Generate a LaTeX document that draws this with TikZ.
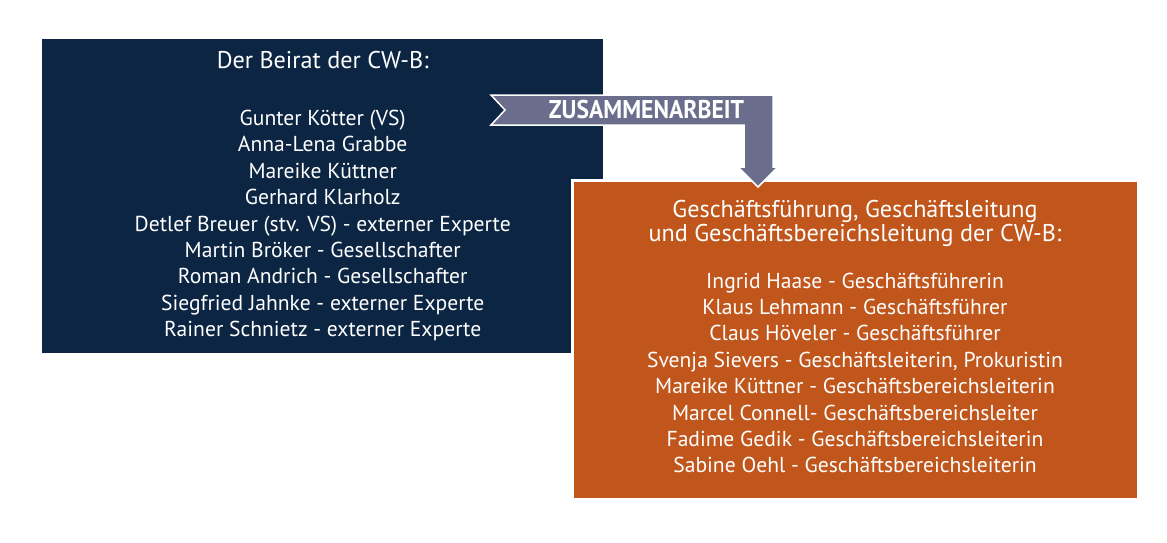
\documentclass[tikz,border=0pt]{standalone}
\usepackage{fontspec}
\setmainfont{PT Sans}
\newfontfamily\bandfont[FakeStretch=0.92]{PT Sans}
\definecolor{beiratblue}{RGB}{12, 37, 66}
\definecolor{gforange}{RGB}{192, 86, 28}
\definecolor{bandgray}{RGB}{106, 110, 140}
\usetikzlibrary{positioning, calc}

\newcommand{\headfont}{\fontsize{24.2}{26.4}\selectfont}
\newcommand{\namefont}{\fontsize{21.6}{26.4}\selectfont}

\begin{document}
\begin{tikzpicture}[x=1pt, y=-1pt,
  board/.style={rectangle, inner sep=0pt, align=center, text=white, font=\namefont},
  band/.style={fill=bandgray, draw=white, line width=1.5pt, line join=miter}]
  \useasboundingbox (0,0) rectangle (1167,543);

  % Beirat
  \node[board, fill=beiratblue, minimum width=561pt, minimum height=314pt, anchor=north west] (beirat) at (42,39) {
    \headfont Der Beirat der CW-B:\\[30.6pt]
    Gunter Kötter (VS)\\
    Anna-Lena Grabbe\\
    Mareike Küttner\\
    Gerhard Klarholz\\
    Detlef Breuer (stv. VS) - externer Experte\\
    Martin Bröker - Gesellschafter\\
    Roman Andrich - Gesellschafter\\
    Siegfried Jahnke - externer Experte\\
    Rainer Schnietz - externer Experte
  };

  % Geschaeftsfuehrung
  \node[board, fill=gforange, draw=white, line width=3pt, minimum width=566pt, minimum height=319pt, anchor=north west] (gf) at (570.5,178.5) {
    \headfont Geschäftsführung, Geschäftsleitung\\[-2.4pt]
    \headfont und Geschäftsbereichsleitung der CW-B:\\[20.6pt]
    Ingrid Haase - Geschäftsführerin\\
    Klaus Lehmann - Geschäftsführer\\
    Claus Höveler - Geschäftsführer\\
    Svenja Sievers - Geschäftsleiterin, Prokuristin\\
    Mareike Küttner - Geschäftsbereichsleiterin\\
    Marcel Connell- Geschäftsbereichsleiter\\
    Fadime Gedik - Geschäftsbereichsleiterin\\
    Sabine Oehl - Geschäftsbereichsleiterin\\[-20pt]
  };

  % Zusammenarbeit
  \coordinate (tail) at (491,95);
  \coordinate (tip) at (758,187);
  \draw[band] (tail) -- (773,95) -- (773,167) -- (778,167) -- (tip) -- (738,167) -- (744,167)
    -- (744,125) -- (491,125) -- (505,110) -- cycle;
  \node[text=white, font=\bandfont\fontsize{25.7}{28}\selectfont\bfseries] (zusammen) at (646.5,109.5) {ZUSAMMENARBEIT};
\end{tikzpicture}
\end{document}
